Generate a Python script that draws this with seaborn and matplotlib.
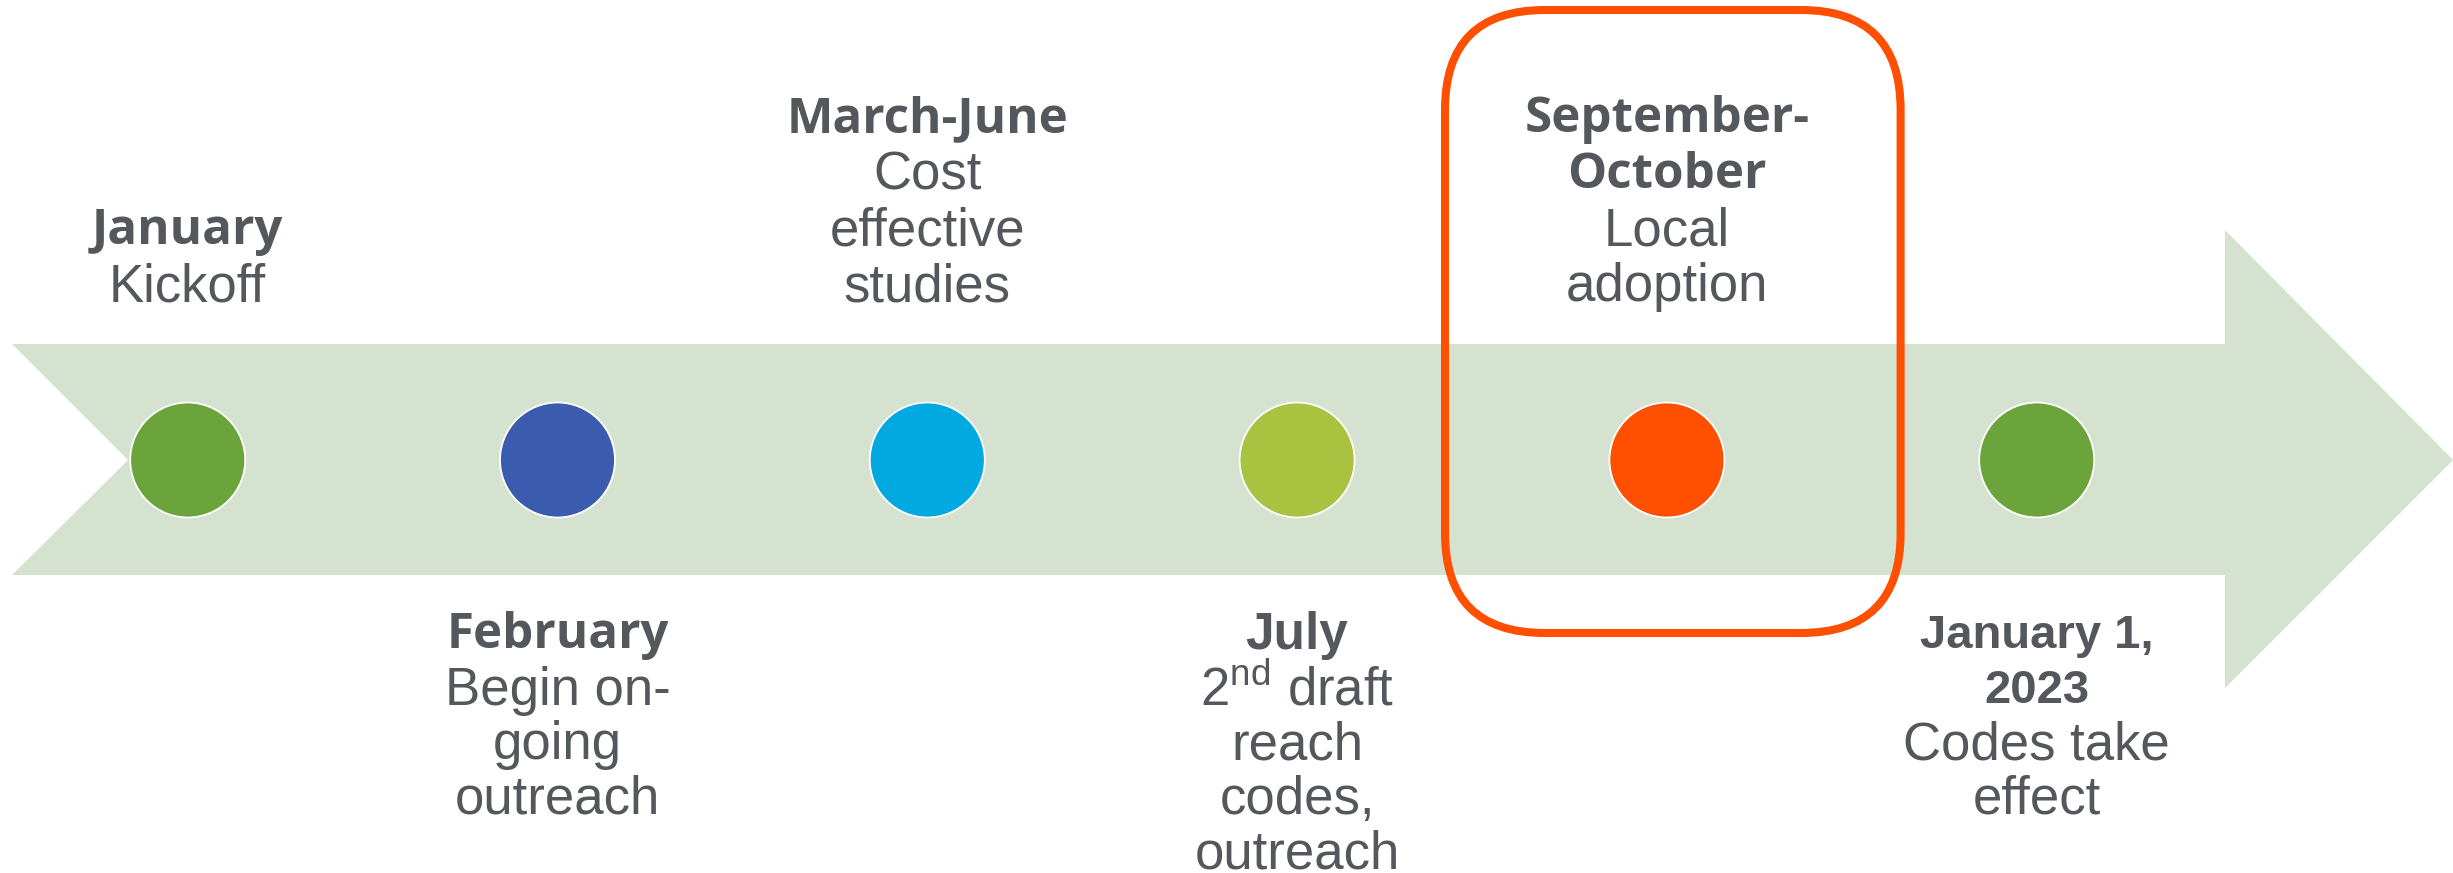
import matplotlib.pyplot as plt
import numpy as np
import pandas as pd
import seaborn as sns
from matplotlib.patches import FancyBboxPatch, Polygon

# milestones along the timeline
months = ['January', 'February', 'March-June', 'July', 'September-\nOctober', 'January 1,\n2023']
details = ['Kickoff', 'Begin on-\ngoing\noutreach', 'Cost\neffective\nstudies',
           '2$^{\\rm nd}$ draft\nreach\ncodes,\noutreach', 'Local\nadoption', 'Codes take\neffect']
sides = ['above', 'below', 'above', 'below', 'above', 'below']
dot_colors = ['#6aa43a', '#3a5bae', '#00a9e0', '#a9c23f', '#ff4f00', '#6aa43a']
month_fonts = ['Open Sans', 'Open Sans', 'Open Sans', 'Liberation Sans', 'Open Sans', 'Liberation Sans']
month_sizes = [35.5, 35.5, 35.5, 37, 35.5, 34]
highlight = 4  # September-October is boxed

TEXT = '#54575c'
BAND = '#d5e2d0'
BOX = '#ff4f00'

sns.set_theme(style='white')
plt.rcParams['font.family'] = ['Liberation Sans', 'DejaVu Sans']
plt.rcParams['mathtext.fontset'] = 'custom'
plt.rcParams['mathtext.rm'] = 'Liberation Sans'

df = pd.DataFrame({'step': np.arange(len(months)), 'y': 0.0, 'month': months})

fig = plt.figure(figsize=(24.53, 8.73), dpi=100)
ax = fig.add_axes([0, 0, 1, 1])
# x in milestone steps (one step ~ 370 px), y in px around the band centre
step_px = 369.8
ax.set_xlim(-187.7 / step_px, (2453 - 187.7) / step_px)
ax.set_ylim(-413, 460)
ax.axis('off')

# big arrow band
arrow = Polygon([(-0.475, 116), (5.509, 116), (5.509, 230), (6.126, 0),
                 (5.509, -228), (5.509, -115), (-0.475, -115), (-0.1614, 0)],
                closed=True, facecolor=BAND, edgecolor='none', zorder=1)
ax.add_patch(arrow)

sns.scatterplot(data=df, x='step', y='y', hue='month', palette=dot_colors,
                s=6855, edgecolor='white', linewidth=1.3, legend=False, ax=ax, zorder=3)

# highlight box around one milestone
box = FancyBboxPatch((highlight - 0.600, -173), 1.232, 623,
                     boxstyle='round,pad=0,rounding_size=0.27', mutation_aspect=step_px,
                     facecolor='none', edgecolor=BOX, linewidth=5.8, zorder=4)
ax.add_patch(box)

for i, (m, d, side) in enumerate(zip(months, details, sides)):
    bold_lines = m.split('\n')
    norm_lines = d.split('\n')
    lines = [(t, True) for t in bold_lines] + [(t, False) for t in norm_lines]
    n = len(lines)
    for k, (txt, is_bold) in enumerate(lines):
        if side == 'above':
            y = 173 + 55.7 * (n - 1 - k)
        else:
            y = -176 - 54.6 * k
        if is_bold:
            ax.text(i, y, txt, ha='center', va='center', fontsize=month_sizes[i],
                    fontweight='bold', family=[month_fonts[i], 'DejaVu Sans'],
                    color=TEXT, zorder=5)
        else:
            ax.text(i, y, txt, ha='center', va='center', fontsize=38,
                    color=TEXT, zorder=5)

fig.savefig('out.png', dpi=100)
